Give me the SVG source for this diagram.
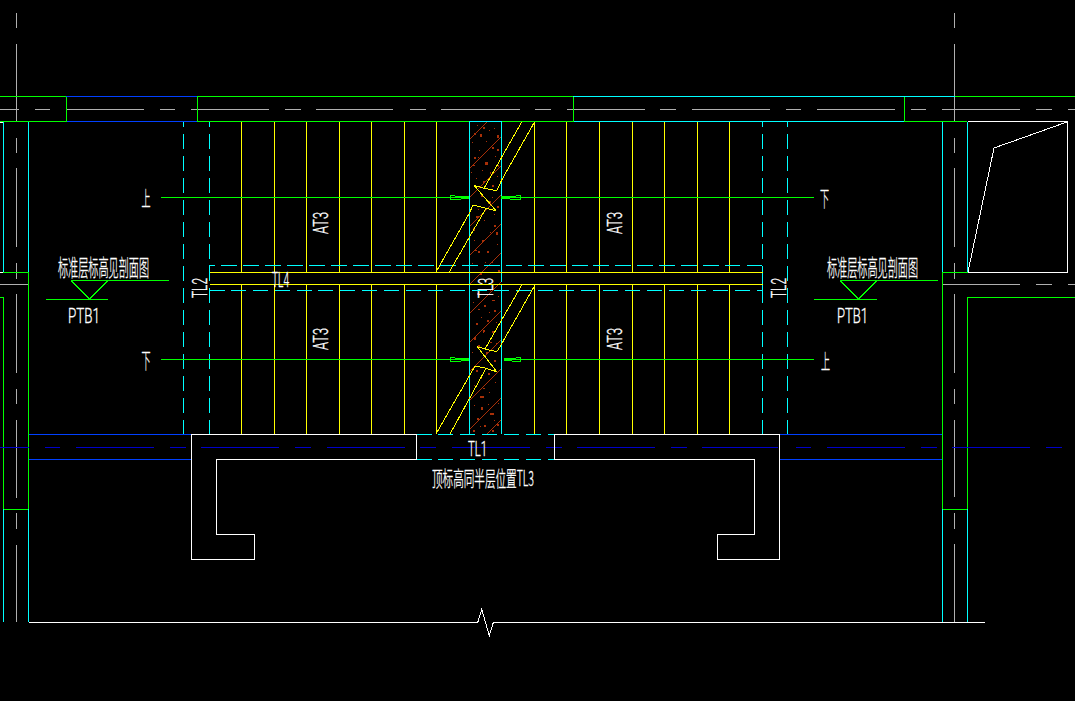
<svg xmlns="http://www.w3.org/2000/svg" width="1075" height="701" viewBox="0 0 1075 701">
<style>
.l{fill:none;stroke-width:1;shape-rendering:crispEdges}
.g{stroke:#00ff00}.c{stroke:#00ffff}.b{stroke:#0040ff}.d{stroke:#0000c8}.y{stroke:#ffff00}.w{stroke:#ffffff}.a{stroke:#b0b0b0}.r{stroke:#a83008}
.cd{stroke-dasharray:15 7;stroke-dashoffset:10}
text{fill:#fff;stroke:#fff;stroke-width:.35px}
.t{font-family:"Roboto","Liberation Sans",Arial,sans-serif;font-size:21px;font-weight:300}
.z{font-family:"Noto Sans CJK SC","Liberation Sans",sans-serif;font-size:23px;font-weight:300}
.s{font-size:21px}
</style>
<rect width="1075" height="701" fill="#000"/>
<g id="axes" class="l a">
<path d="M0 109.5H19M35 109.5H50M66 109.5H144M160 109.5H175M191 109.5H269M285 109.5H301M316 109.5H393M410 109.5H426M441 109.5H520M535 109.5H551M567 109.5H645M660 109.5H676M692 109.5H770M786 109.5H801M817 109.5H895M911 109.5H926M942 109.5H1020M1036 109.5H1052M1068 109.5H1075"/>
<path d="M0 284.5H28M943 284.5H1020M1036 284.5H1052M1068 284.5H1075"/>
<path d="M16.5 13V28M16.5 44V122M16.5 138V153M16.5 168V247M16.5 263V279M16.5 294V373M16.5 389V404M16.5 420V498M16.5 513V529M16.5 545V622"/>
<path d="M954.5 13V28M954.5 44V122M954.5 138V153M954.5 168V247M954.5 263V279M954.5 294V373M954.5 389V404M954.5 420V497M954.5 513V529M954.5 544V622"/>
</g>
<g id="walls" class="l">
<path class="g" d="M0 96.5H66M197 96.5H573M955 96.5H1075M0 121.5H66M197 121.5H573M904 121.5H967"/>
<path class="b" d="M66 96.5H197M66 121.5H197"/>
<path class="c" d="M573 96.5H955M573 121.5H904"/>
<path class="g" d="M66.5 97V122M197.5 97V122M573.5 97V122M904.5 97V122"/>
<path class="c" d="M3.5 122V272M28.5 122V272M942.5 122V272M967.5 122V272"/>
<path class="g" d="M0 272.5H28.5M28.5 272V509M0 297.5H3.5V509M3.5 509.5H28.5"/>
<path class="g" d="M942 272.5H967.5M942.5 272V509M1075 297.5H967.5V509M942.5 509.5H967.5"/>
<path class="c" d="M3.5 509V622M28.5 509V622M942.5 509V622M967.5 509V622"/>
<path class="w" d="M0 122.5H3M0 272.5H3"/>
<path class="w" d="M967.5 121.5H1067.5V272.5H967.5M968 272L994 148L1067 122"/>
<path class="b" d="M29 434.5H191M29 459.5H191M780 434.5H942M780 459.5H942"/>
<path class="d" d="M0 447.5H29M45 447.5H60M76 447.5H154M170 447.5H186M201 447.5H279M295 447.5H311M327 447.5H405M420 447.5H436M452 447.5H530M546 447.5H562M577 447.5H655M671 447.5H687M702 447.5H778M796 447.5H811M827 447.5H905M921 447.5H937M952 447.5H1030M1046 447.5H1062"/>
<path class="w" d="M29 622.5H477.7L481.7 609.5L489.3 635.5L493.3 622.5H985"/>
</g>
<g id="stair-hatch" class="l r">
<path d="M470 139L487 122M470 168L501 137M470 197L501 166M470 226L501 195M470 255L501 224M470 284L501 253M470 313L501 282M470 342L501 311M470 371L501 340M470 400L501 369M470 429L501 398M487 434L501 420"/>
<path fill="#a83008" stroke="none" d="M474 133h2v2h-2zM480 134h2v3h-2zM497 135h2v3h-2zM483 127h2v2h-2zM492 147h2v2h-2zM497 149h2v2h-2zM474 157h2v2h-2zM478 157h1v1h-1zM485 162h3v3h-3zM498 165h1v2h-1zM473 165h2v1h-2zM490 172h1v2h-1zM483 181h2v2h-2zM492 185h2v2h-2zM488 201h3v3h-3zM481 195h2v2h-2zM497 206h2v2h-2zM476 216h3v2h-3zM473 228h2v3h-2zM482 240h2v2h-2zM494 225h2v2h-2zM475 250h2v1h-2zM478 251h2v2h-2zM487 251h2v2h-2zM496 232h2v3h-2zM498 270h2v3h-2zM480 273h2v2h-2zM477 293h2v2h-2zM492 300h3v1h-3zM484 305h2v2h-2zM478 309h2v1h-2zM476 323h2v2h-2zM487 320h2v2h-2zM483 330h2v2h-2zM494 310h2v2h-2zM492 331h2v2h-2zM483 332h1v1h-1zM474 337h2v3h-2zM490 342h2v1h-2zM478 345h2v2h-2zM486 352h2v2h-2zM496 343h1v2h-1zM476 370h2v2h-2zM488 373h2v2h-2zM494 360h2v2h-2zM483 388h2v1h-2zM480 396h4v2h-4zM481 407h2v3h-2zM490 413h4v2h-4zM477 418h2v2h-2zM484 425h2v2h-2zM497 424h2v2h-2zM473 430h2v2h-2zM492 430h2v2h-2z"/>
<path fill="#a83008" stroke="none" d="M477 125h1v1h-1zM489 130h1v1h-1zM494 128h1v1h-1zM472 142h1v1h-1zM486 141h1v1h-1zM479 150h1v1h-1zM495 156h1v1h-1zM471 172h1v1h-1zM482 170h1v1h-1zM497 176h1v1h-1zM476 178h1v1h-1zM492 197h1v1h-1zM478 209h1v1h-1zM494 214h1v1h-1zM484 220h1v1h-1zM490 232h1v1h-1zM474 240h1v1h-1zM497 244h1v1h-1zM485 262h1v1h-1zM472 263h1v1h-1zM492 262h1v1h-1zM473 290h1v1h-1zM490 290h1v1h-1zM498 296h1v1h-1zM473 302h1v1h-1zM489 312h1v1h-1zM481 317h1v1h-1zM496 322h1v1h-1zM472 352h1v1h-1zM481 378h1v1h-1zM495 382h1v1h-1zM474 385h1v1h-1zM489 392h1v1h-1zM498 403h1v1h-1zM474 405h1v1h-1zM488 404h1v1h-1zM480 426h1v1h-1zM494 420h1v1h-1z"/>
</g>
<g id="treads" class="l y">
<path d="M241.5 122V272M274.5 122V272M306.5 122V272M339.5 122V272M371.5 122V272M404.5 122V272M436.5 122V272M534.5 122V272M566.5 122V272M599.5 122V272M632.5 122V272M664.5 122V272M697.5 122V272M729.5 122V272"/>
<path d="M241.5 284V434M274.5 284V434M306.5 284V434M339.5 284V434M371.5 284V434M404.5 284V434M436.5 284V434M534.5 284V434M566.5 284V434M599.5 284V434M632.5 284V434M664.5 284V434M697.5 284V434M729.5 284V434"/>
</g>
<g id="beams-dashed" class="l c">
<path class="cd" d="M183.5 122V434M209.5 122V434M762.5 122V434M787.5 122V434"/>
<path d="M762.5 266V303"/>
<path d="M209 265.5H215M221 265.5H237M243 265.5H259M265 265.5H281M287 265.5H303M309 265.5H325M331 265.5H347M353 265.5H369M375 265.5H391M396 265.5H412M418 265.5H434M440 265.5H456M462 265.5H478M484 265.5H500M506 265.5H522M528 265.5H544M550 265.5H566M572 265.5H588M593 265.5H609M615 265.5H631M637 265.5H653M659 265.5H675M681 265.5H697M703 265.5H719M725 265.5H740M747 265.5H762"/>
<path d="M210 290.5H225M231 290.5H246M253 290.5H268M275 290.5H290M297 290.5H312M318 290.5H333M340 290.5H355M362 290.5H377M384 290.5H399M406 290.5H421M428 290.5H443M450 290.5H465M472 290.5H487M494 290.5H509M516 290.5H531M538 290.5H553M559 290.5H574M581 290.5H596M603 290.5H618M625 290.5H640M647 290.5H662M669 290.5H684M691 290.5H706M713 290.5H728M735 290.5H750M757 290.5H762"/>
<path d="M469.5 122V434M501.5 122V282M501.5 285V434M469 121.5H502"/>
<path d="M417 434.5H432M438 434.5H453M460 434.5H475M482 434.5H497M504 434.5H519M526 434.5H541M548 434.5H554M417 459.5H432M438 459.5H453M460 459.5H475M482 459.5H497M504 459.5H519M526 459.5H541M548 459.5H554"/>
</g>
<g id="landing-and-flights" class="l y">
<path d="M209.5 272.5H762.5M209.5 284.5H762.5"/>
<path d="M534.5 122L501.7 180L496.7 190.7L484 188.3L474 185.3L496 210.7L486 208.3L473 205L469.3 213.3L436 272"/>
<path d="M521.7 122L484 188.3M486 208.3L449.3 272"/>
<path d="M535 285L500 346.7L496.7 351.7L485 349L477.3 346.7L496.7 371.7L486 368.3L475 366L436 434"/>
<path d="M521.7 285L485 349M486 368.3L450 434"/>
</g>
<g id="white-outline" class="l w">
<path d="M417 434.5H191.7V559.5H254.5V534.5H216.5V459.5H416.7V434"/>
<path d="M554.5 434.5H779.5V559.5H717.5V534.5H754.5V459.5H554.5V434"/>
</g>
<g id="connectors" class="l g">
<path d="M161 197.5H469M501 197.5H814M161 359.5H469M504 359.5H814"/>
<path d="M461 197.5H469M501 197.5H510M461 359.5H469M504 359.5H512" stroke-width="3"/>
<path d="M461 196H455L454.500 195H450.500V199.500H454.500L455 199H461M510 196H516L516.500 195H520.500V199.500H516.500L516 199H510"/>
<path d="M461 358H455L454.500 357H450.500V361.500H454.500L455 361H461M512 358H516L516.500 357H520.500V361.500H516.500L516 361H512"/>
<path d="M71 280.500H169M71 280.500L89.500 299L108 280.500M46 299.500H108"/>
<path d="M840 280.500H938M840 280.500L858.500 299L877 280.500M814 299.500H877"/>
</g>
<g id="labels">
<text class="z" x="58" y="276" textLength="91" lengthAdjust="spacingAndGlyphs">标准层标高见剖面图</text>
<text class="z" x="827" y="276" textLength="91" lengthAdjust="spacingAndGlyphs">标准层标高见剖面图</text>
<text class="t" x="68" y="323" textLength="32" lengthAdjust="spacingAndGlyphs">PTB1</text>
<text class="t" x="837" y="323" textLength="31" lengthAdjust="spacingAndGlyphs">PTB1</text>
<text class="z s" x="141.500" y="206" textLength="9" lengthAdjust="spacingAndGlyphs">上</text>
<text class="z s" x="820" y="206" textLength="9" lengthAdjust="spacingAndGlyphs">下</text>
<text class="z s" x="141.500" y="368" textLength="9" lengthAdjust="spacingAndGlyphs">下</text>
<text class="z s" x="821" y="369" textLength="9" lengthAdjust="spacingAndGlyphs">上</text>
<text class="t" transform="translate(207 298) rotate(-90)" textLength="20" lengthAdjust="spacingAndGlyphs">TL2</text>
<text class="t" transform="translate(786 298) rotate(-90)" textLength="20" lengthAdjust="spacingAndGlyphs">TL2</text>
<text class="t" transform="translate(493 298) rotate(-90)" textLength="20" lengthAdjust="spacingAndGlyphs">TL3</text>
<text class="t" x="272" y="287" textLength="17" lengthAdjust="spacingAndGlyphs">TL4</text>
<text class="t" transform="translate(328 234) rotate(-90)" textLength="22" lengthAdjust="spacingAndGlyphs">AT3</text>
<text class="t" transform="translate(328 350) rotate(-90)" textLength="22" lengthAdjust="spacingAndGlyphs">AT3</text>
<text class="t" transform="translate(622 234) rotate(-90)" textLength="22" lengthAdjust="spacingAndGlyphs">AT3</text>
<text class="t" transform="translate(622 350) rotate(-90)" textLength="22" lengthAdjust="spacingAndGlyphs">AT3</text>
<text class="t" x="468" y="456" textLength="19" lengthAdjust="spacingAndGlyphs">TL1</text>
<text class="z" x="432" y="486" textLength="102" lengthAdjust="spacingAndGlyphs" style="font-size:21px">顶标高同半层位置TL3</text>
</g>
</svg>
